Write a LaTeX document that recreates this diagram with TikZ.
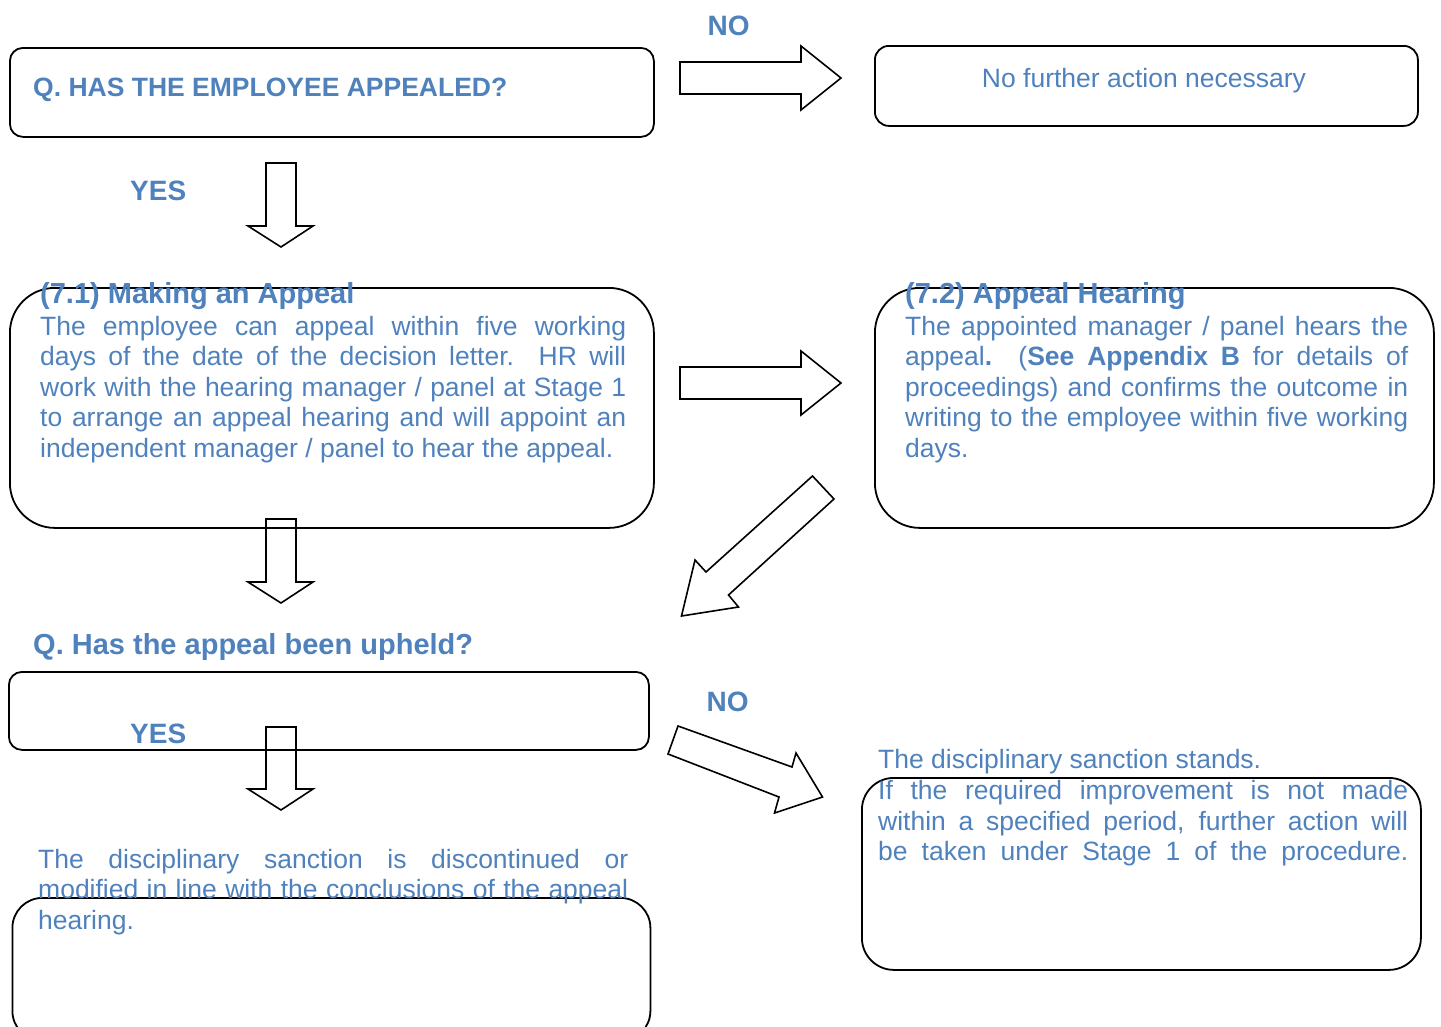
\documentclass[tikz,border=0pt]{standalone}
\usepackage{fontspec}
\setmainfont{Liberation Sans}
\definecolor{tblue}{HTML}{4F81BD}
\tikzset{
  box/.style={draw=black, line width=1.8pt, inner sep=0pt, anchor=north west},
  barrow/.style={draw=black, line width=1.6pt, line join=miter},
  txt/.style={text=tblue, inner sep=0pt, anchor=base west, font=\fontsize{26.5}{30.8}\selectfont},
  qtxt/.style={txt, font=\fontsize{26.5}{30.8}\selectfont\bfseries},
  ttl/.style={txt, font=\fontsize{29}{33}\selectfont\bfseries},
  yn/.style={txt, font=\fontsize{28}{32}\selectfont\bfseries}
}
\newcommand{\JL}[2]{\makebox[#1pt][s]{#2}}
\begin{document}
\begin{tikzpicture}[x=1pt,y=-1pt]
\useasboundingbox (0,0) rectangle (1441,1026);
% ---------- boxes ----------
\node[box, rounded corners=13pt, minimum width=644pt, minimum height=89pt] (qa) at (9,47) {};
\node[box, rounded corners=14pt, minimum width=543pt, minimum height=80pt] (nfa) at (874,45) {};
\node[box, rounded corners=45pt, minimum width=644pt, minimum height=240pt] (mk) at (9,287) {};
\node[box, rounded corners=45pt, minimum width=559pt, minimum height=240pt] (ah) at (874,287) {};
\node[box, rounded corners=13pt, minimum width=640pt, minimum height=78pt] (qb) at (8,671) {};
\node[box, rounded corners=30pt, minimum width=638pt, minimum height=143pt] (dis) at (11.5,897) {};
\node[box, rounded corners=32pt, minimum width=559pt, minimum height=192pt] (st) at (861,777) {};
% ---------- block arrows ----------
\draw[barrow] (680,62) -- (801,62) -- (801,46) -- (841,78) -- (801,110) -- (801,94) -- (680,94) -- cycle;
\draw[barrow] (680,367) -- (801,367) -- (801,351) -- (841,383) -- (801,415) -- (801,399) -- (680,399) -- cycle;
\draw[barrow] (266,163) -- (296,163) -- (296,226) -- (313,226) -- (281,247) -- (248,226) -- (266,226) -- cycle;
\draw[barrow] (266,519) -- (296,519) -- (296,582) -- (313,582) -- (281,603) -- (248,582) -- (266,582) -- cycle;
\draw[barrow] (266,727) -- (296,727) -- (296,789) -- (313,789) -- (281,810) -- (248,789) -- (266,789) -- cycle;
\draw[barrow] (812.5,476) -- (834,499) -- (728.5,595) -- (738.5,607) -- (681.5,616) -- (695,560) -- (706,572) -- cycle;
\draw[barrow] (678,726) -- (792,767) -- (796,753) -- (822.5,797) -- (774.5,813) -- (779,797) -- (668,754) -- cycle;
% ---------- labels ----------
\node[yn] (no1) at (707.5,35) {NO};
\node[yn] (yes1) at (130,200) {YES};
\node[yn] (no2) at (706.5,711) {NO};
\node[yn] (yes2) at (130,743.3) {YES};
\node[qtxt] (qat) at (33,96) {Q. HAS THE EMPLOYEE APPEALED?};
\node[txt, anchor=base] (nfat) at (1144,87.3) {No further action necessary};
% ---------- 7.1 ----------
\node[ttl] (mkt) at (40,303) {(7.1) Making an Appeal};
\node[txt] (mk1) at (40,335) {\JL{586}{The employee can appeal within five working}};
\node[txt] (mk2) at (40,365.6) {\JL{586}{days of the date of the decision letter.\ \ HR will}};
\node[txt] (mk3) at (40,396.2) {\JL{586}{work with the hearing manager / panel at Stage 1}};
\node[txt] (mk4) at (40,426.8) {\JL{586}{to arrange an appeal hearing and will appoint an}};
\node[txt] (mk5) at (40,457.4) {independent manager / panel to hear the appeal.};
% ---------- 7.2 ----------
\node[ttl] (aht) at (905,303) {(7.2) Appeal Hearing};
\node[txt] (ah1) at (905,335) {\JL{503}{The appointed manager / panel hears the}};
\node[txt] (ah2) at (905,365.6) {\JL{503}{appeal\textbf{.} (\textbf{See Appendix B} for details of}};
\node[txt] (ah3) at (905,396.2) {\JL{503}{proceedings) and confirms the outcome in}};
\node[txt] (ah4) at (905,426.8) {\JL{503}{writing to the employee within five working}};
\node[txt] (ah5) at (905,457.4) {days.};
% ---------- question 2 ----------
\node[ttl] (qbt) at (33,654.3) {Q. Has the appeal been upheld?};
% ---------- yes outcome ----------
\node[txt] (d1) at (38,868.3) {\JL{590}{The disciplinary sanction is discontinued or}};
\node[txt] (d2) at (38,898.8) {\JL{590}{modified in line with the conclusions of the appeal}};
\node[txt] (d3) at (38,929.3) {hearing.};
% ---------- no outcome ----------
\node[txt] (s0) at (878,768.5) {The disciplinary sanction stands.};
\node[txt] (s1) at (878,799.3) {\JL{530}{If the required improvement is not made}};
\node[txt] (s2) at (878,830) {\JL{530}{within a specified period, further action will}};
\node[txt] (s3) at (878,860.8) {\JL{530}{be taken under Stage 1 of the procedure.}};
\end{tikzpicture}
\end{document}
